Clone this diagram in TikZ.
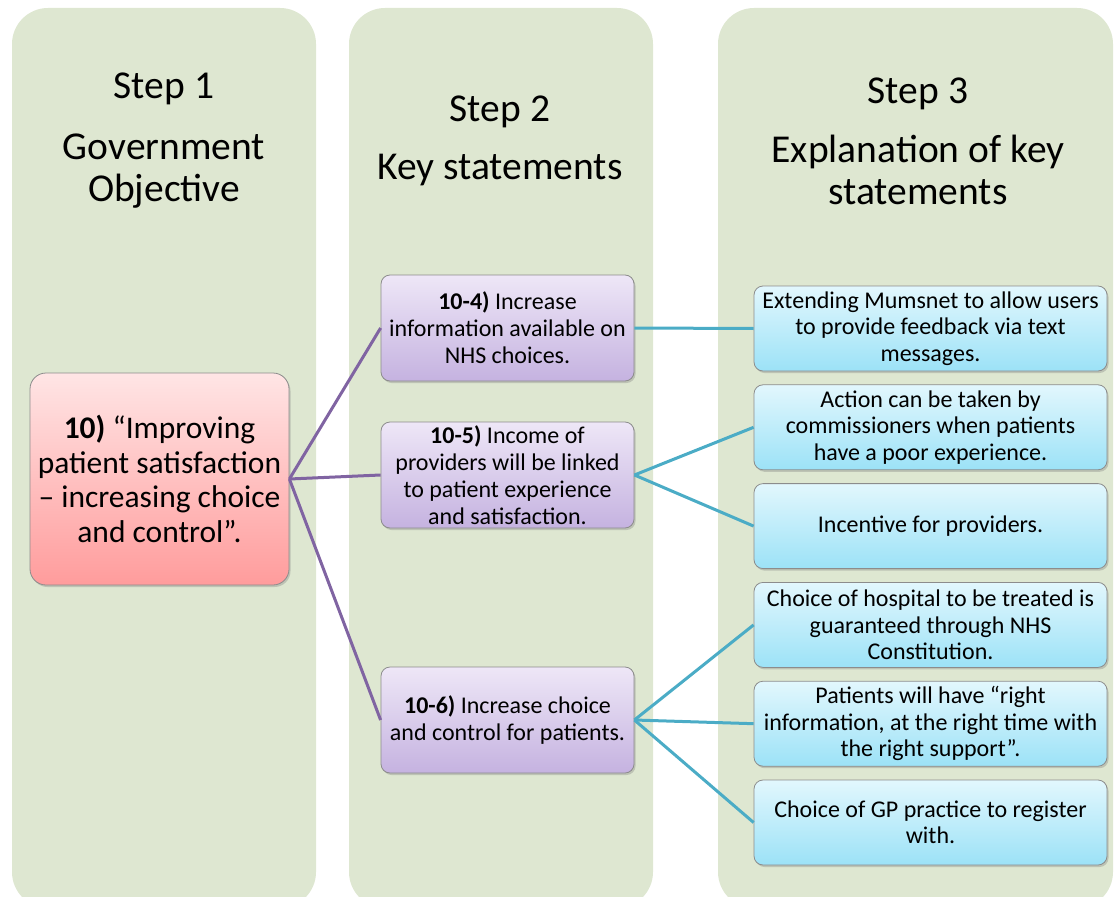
\documentclass[tikz,border=0pt]{standalone}
\usepackage{fontspec}
\setmainfont{Carlito}
\usetikzlibrary{positioning,shadows}

\definecolor{panelgreen}{RGB}{222,231,209}
\definecolor{linkpurple}{RGB}{128,100,162}
\definecolor{linkteal}{RGB}{75,172,198}
\definecolor{edgegray}{RGB}{140,140,140}

\begin{document}
\begin{tikzpicture}[x=1pt, y=-1pt,
  node distance=13pt,
  panel/.style={fill=panelgreen, rounded corners=36pt, inner sep=0pt},
  head/.style={align=center, font=\fontsize{39.5}{42}\selectfont},
  basebox/.style={draw=edgegray, line width=0.8pt, rounded corners=9pt, align=center,
                  inner sep=2pt,
                  drop shadow={shadow xshift=1.5pt, shadow yshift=-2pt, opacity=0.35}},
  goal/.style={basebox, rounded corners=16pt, minimum width=259pt, minimum height=212pt,
               top color={rgb,255:red,255;green,229;blue,229},
               bottom color={rgb,255:red,255;green,156;blue,156},
               font=\fontsize{31.5}{34.5}\selectfont},
  keybox/.style={basebox, minimum width=253pt, minimum height=106pt,
                 top color={rgb,255:red,238;green,231;blue,247},
                 bottom color={rgb,255:red,197;green,178;blue,224},
                 font=\fontsize{24}{27}\selectfont},
  explbox/.style={basebox, minimum width=353pt, minimum height=85pt,
                  top color={rgb,255:red,226;green,247;blue,253},
                  bottom color={rgb,255:red,156;green,226;blue,247},
                  font=\fontsize{24}{26.5}\selectfont},
  plink/.style={linkpurple, line width=3pt},
  tlink/.style={linkteal, line width=3pt}
]
  \useasboundingbox (0,0) rectangle (1115,896);
  \clip (0,0) rectangle (1115,896);

  % three step columns
  \node[panel, minimum width=304pt, minimum height=900pt] (col1) at (164,458) {};
  \node[panel, minimum width=304pt, minimum height=900pt] (col2) at (501,458) {};
  \node[panel, minimum width=395pt, minimum height=900pt] (col3) at (915.5,458) {};

  \node[head] (h1) at (164,141) {Step 1\\[19pt]Government\\Objective};
  \node[head] (h2) at (500,141) {Step 2\\[16pt]Key statements};
  \node[head] (h3) at (918,141) {Step 3\\[17pt]Explanation of key\\statements};

  % objective
  \node[goal] (obj) at (159.5,479) {\textbf{10)} “Improving\\patient satisfaction\\– increasing choice\\and control”.};

  % key statements
  \node[keybox] (k4) at (507.5,328) {\textbf{10-4)} Increase\\information available on\\NHS choices.};
  \node[keybox] (k5) at (507.5,475) {\textbf{10-5)} Income of\\providers will be linked\\to patient experience\\and satisfaction.};
  \node[keybox] (k6) at (507.5,720) {\textbf{10-6)} Increase choice\\and control for patients.};

  % explanations
  \node[explbox] (e1) at (930.5,328.5) {Extending Mumsnet to allow users\\to provide feedback via text\\messages.};
  \node[explbox, below=of e1] (e2) {Action can be taken by\\commissioners when patients\\have a poor experience.};
  \node[explbox, below=of e2] (e3) {Incentive for providers.};
  \node[explbox, below=of e3] (e4) {Choice of hospital to be treated is\\guaranteed through NHS\\Constitution.};
  \node[explbox, below=of e4] (e5) {Patients will have “right\\information, at the right time with\\the right support”.};
  \node[explbox, below=of e5] (e6) {Choice of GP practice to register\\with.};

  \draw[plink] (obj.east) -- (k4.west);
  \draw[plink] (obj.east) -- (k5.west);
  \draw[plink] (obj.east) -- (k6.west);

  \draw[tlink] (k4.east) -- (e1.west);
  \draw[tlink] (k5.east) -- (e2.west);
  \draw[tlink] (k5.east) -- (e3.west);
  \draw[tlink] (k6.east) -- (e4.west);
  \draw[tlink] (k6.east) -- (e5.west);
  \draw[tlink] (k6.east) -- (e6.west);
\end{tikzpicture}
\end{document}
